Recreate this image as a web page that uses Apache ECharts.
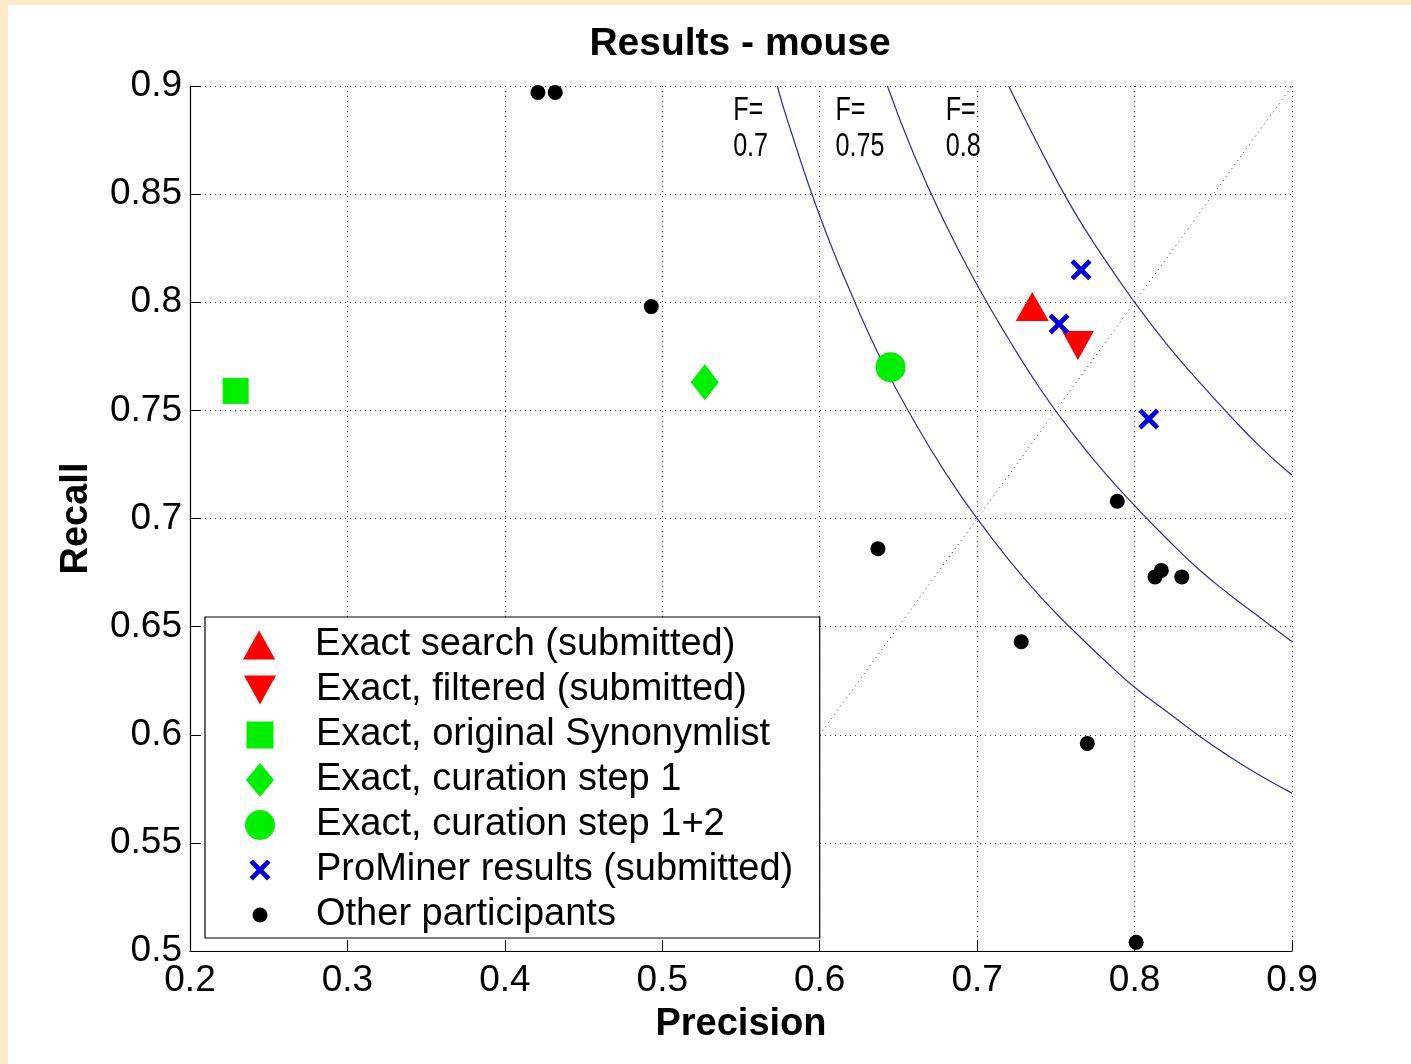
<!DOCTYPE html>
<html>
<head>
<meta charset="utf-8">
<script src="https://cdn.jsdelivr.net/npm/echarts@6/dist/echarts.min.js"></script>
<style>
  html, body { margin: 0; padding: 0; background: #fdebc8; width: 1411px; height: 1064px; overflow: hidden; }
  #chart { position: absolute; left: 8px; top: 5px; width: 1403px; height: 1059px; background: #ffffff; }
</style>
</head>
<body>
<div id="chart"></div>
<script>
// ---- tick labels ----
const xTicks = [0.2, 0.3, 0.4, 0.5, 0.6, 0.7, 0.8, 0.9];
const yTicks = [0.5, 0.55, 0.6, 0.65, 0.7, 0.75, 0.8, 0.85, 0.9];

// ---- series names ----
const seriesNames = [
  'Exact search (submitted)',
  'Exact, filtered (submitted)',
  'Exact, original Synonymlist',
  'Exact, curation step 1',
  'Exact, curation step 1+2',
  'ProMiner results (submitted)',
  'Other participants'
];

// ---- data points [precision, recall] ----
const exactSearch = [[0.735, 0.798]];
const exactFiltered = [[0.764, 0.780]];
const exactOriginal = [[0.229, 0.759]];
const exactCuration1 = [[0.527, 0.763]];
const exactCuration12 = [[0.645, 0.770]];
const prominer = [[0.766, 0.815], [0.752, 0.790], [0.809, 0.746]];
const others = [
  [0.421, 0.897], [0.432, 0.897], [0.493, 0.798],
  [0.789, 0.708], [0.637, 0.686], [0.813, 0.673], [0.817, 0.676],
  [0.830, 0.673], [0.728, 0.643], [0.770, 0.596], [0.801, 0.504]
];

// ---- F-measure isolines, points [precision, recall] ----
const fCurve070 = [
  [0.573, 0.900], [0.580, 0.883], [0.600, 0.840], [0.620, 0.804], [0.640, 0.772],
  [0.660, 0.745], [0.680, 0.721], [0.700, 0.700], [0.720, 0.681], [0.740, 0.664],
  [0.760, 0.649], [0.780, 0.635], [0.800, 0.622], [0.820, 0.611], [0.840, 0.600],
  [0.860, 0.590], [0.880, 0.581], [0.900, 0.573]
];
const fCurve075 = [
  [0.643, 0.900], [0.660, 0.868], [0.680, 0.836], [0.700, 0.808], [0.720, 0.783],
  [0.740, 0.760], [0.760, 0.740], [0.780, 0.722], [0.800, 0.706], [0.820, 0.691],
  [0.840, 0.677], [0.860, 0.665], [0.880, 0.654], [0.900, 0.643]
];
const fCurve080 = [
  [0.720, 0.900], [0.740, 0.871], [0.760, 0.844], [0.780, 0.821], [0.800, 0.800],
  [0.820, 0.781], [0.840, 0.764], [0.860, 0.748], [0.880, 0.733], [0.900, 0.720]
];
const diagonal = [[0.6, 0.6], [0.9, 0.9]];

// ---- F labels ----
const fLabelText = ['F=\n0.7', 'F=\n0.75', 'F=\n0.8'];
const fLabelPos = [[0.545, 0.895], [0.610, 0.895], [0.680, 0.895]];

const FONT = '"Liberation Sans", Arial, Helvetica, sans-serif';
const chart = echarts.init(document.getElementById('chart'), null, { renderer: 'canvas' });

const XPATH = 'path://M0,1.6 L1.6,0 L5,3.4 L8.4,0 L10,1.6 L6.6,5 L10,8.4 L8.4,10 L5,6.6 L1.6,10 L0,8.4 L3.4,5 Z';
const UPTRI = 'path://M5,0 L10,9 L0,9 Z';
const DNTRI = 'path://M0,0 L10,0 L5,9 Z';

const markers = [
  { name: seriesNames[0], data: exactSearch, symbol: UPTRI, size: [33, 29], color: '#ff0000', lw: 34, lh: 29 },
  { name: seriesNames[1], data: exactFiltered, symbol: DNTRI, size: [32, 29], color: '#ff0000', lw: 32, lh: 29 },
  { name: seriesNames[2], data: exactOriginal, symbol: 'rect', size: [26, 26], color: '#00f000', lw: 27, lh: 27 },
  { name: seriesNames[3], data: exactCuration1, symbol: 'diamond', size: [28, 36], color: '#00f000', lw: 28, lh: 34 },
  { name: seriesNames[4], data: exactCuration12, symbol: 'circle', size: 30, color: '#00f000', lw: 30, lh: 30 },
  { name: seriesNames[5], data: prominer, symbol: XPATH, size: 21, color: '#0000e0', lw: 21, lh: 21 },
  { name: seriesNames[6], data: others, symbol: 'circle', size: 15, color: '#000000', lw: 15, lh: 15 }
];

const rowTop = 643, rowGap = 45, iconCx = 260, textX = 316;

const series = [];
[fCurve070, fCurve075, fCurve080].forEach(function (c) {
  series.push({
    type: 'line', data: c, smooth: true, showSymbol: false, silent: true,
    lineStyle: { color: '#2a2aa8', width: 1.2 }, z: 1
  });
});
series.push({
  type: 'line', data: diagonal, showSymbol: false, silent: true,
  lineStyle: { color: '#333', width: 1, type: [1, 4] }, z: 1
});
markers.forEach(function (m) {
  series.push({
    name: m.name, type: 'scatter', data: m.data, symbol: m.symbol, symbolSize: m.size,
    itemStyle: { color: m.color, opacity: 1 }, z: 3
  });
});

const legends = markers.map(function (m, i) {
  const cy = rowTop + i * rowGap;
  return {
    data: [{ name: m.name, icon: m.symbol }],
    left: iconCx - m.lw / 2 - 8,
    top: cy - 23,
    padding: 0,
    itemWidth: m.lw,
    itemHeight: m.lh,
    selectedMode: false,
    z: 60,
    textStyle: {
      fontFamily: FONT, fontSize: 38, color: '#000', lineHeight: 40,
      padding: [0, 0, 0, textX - (iconCx + m.lw / 2 + 5)]
    }
  };
});

const option = {
  animation: false,
  title: {
    text: 'Results - mouse', left: 727, top: 15, textAlign: 'center',
    textStyle: { fontFamily: FONT, fontSize: 39, fontWeight: 'bold', color: '#000' }
  },
  grid: { left: 182, top: 81, right: 119, bottom: 113, containLabel: false },
  xAxis: {
    type: 'value', min: xTicks[0], max: xTicks[xTicks.length - 1], interval: 0.1,
    name: 'Precision', nameLocation: 'middle', nameGap: 55,
    nameTextStyle: { fontFamily: FONT, fontSize: 38, fontWeight: 'bold', color: '#000' },
    axisLine: { show: true, onZero: false, lineStyle: { color: '#000', width: 1.2 } },
    axisTick: { show: true, inside: true, length: 11, lineStyle: { color: '#000', width: 1 } },
    axisLabel: { fontFamily: FONT, fontSize: 37, color: '#000', margin: 11 },
    splitLine: { show: true, lineStyle: { color: '#333', width: 1, type: [1, 4] } }
  },
  yAxis: {
    type: 'value', min: yTicks[0], max: yTicks[yTicks.length - 1], interval: 0.05,
    name: 'Recall', nameLocation: 'middle', nameGap: 94, nameRotate: 90,
    nameTextStyle: { fontFamily: FONT, fontSize: 38, fontWeight: 'bold', color: '#000' },
    axisLine: { show: true, onZero: false, lineStyle: { color: '#000', width: 1.2 } },
    axisTick: { show: true, inside: true, length: 11, lineStyle: { color: '#000', width: 1 } },
    axisLabel: { fontFamily: FONT, fontSize: 37, color: '#000', margin: 8 },
    splitLine: { show: true, lineStyle: { color: '#333', width: 1, type: [1, 4] } }
  },
  legend: legends,
  series: series
};
chart.setOption(option);

// legend box and F labels positioned through the chart's scales
const pCorner = chart.convertToPixel({ gridIndex: 0 }, [0.6, 0.6]);
const graphics = [{
  type: 'rect', z: 50, silent: true,
  shape: { x: 197, y: 612, width: (pCorner[0] - 197), height: 321 },
  style: { fill: '#ffffff', stroke: '#000', lineWidth: 1.2 }
}];
fLabelText.forEach(function (t, i) {
  const p = chart.convertToPixel({ gridIndex: 0 }, fLabelPos[i]);
  graphics.push({
    type: 'text', z: 40, silent: true, x: p[0], y: p[1] - 4, scaleX: 0.74,
    style: { text: t, font: '34px ' + FONT, fill: '#000', lineHeight: 36, textAlign: 'left', textVerticalAlign: 'top' }
  });
});
chart.setOption({ graphic: graphics });
</script>
</body>
</html>
